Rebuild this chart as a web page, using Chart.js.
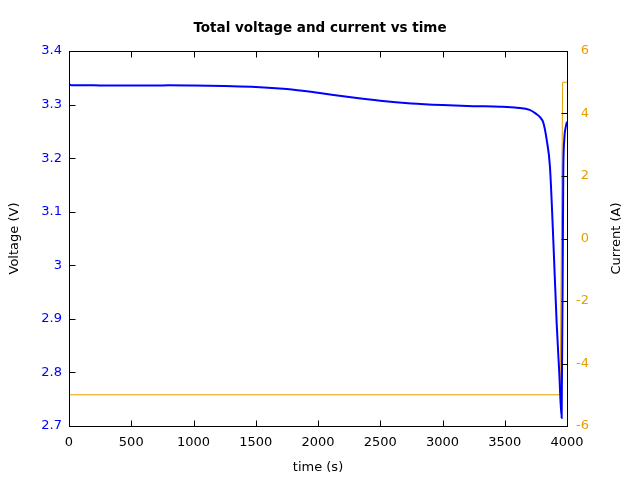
<!DOCTYPE html>
<html>
<head>
<meta charset="utf-8">
<script src="https://cdn.jsdelivr.net/npm/chart.js@4/dist/chart.umd.min.js"></script>
<style>
html,body{margin:0;padding:0;background:#fff;}
canvas{display:block;}
</style>
</head>
<body>
<canvas id="c" width="640" height="480"></canvas>
<script>
// ---- data ----
const voltageTimes = [0, 20, 200, 300, 500, 700, 800, 1000, 1250, 1500, 1750, 2000, 2250, 2500, 2750, 3000, 3250, 3462, 3600, 3700, 3750, 3785, 3810, 3837, 3863, 3890, 3917, 3938, 3957, 3970, 3978, 3990, 4000];
const voltage      = [3.338, 3.336, 3.336, 3.3355, 3.3355, 3.3355, 3.336, 3.3355, 3.3345, 3.333, 3.329, 3.322, 3.314, 3.307, 3.302, 3.299, 3.297, 3.296, 3.294, 3.290, 3.283, 3.276, 3.266, 3.234, 3.184, 3.047, 2.892, 2.799, 2.715, 3.172, 3.234, 3.258, 3.268];
const currentTimes = [0, 3945, 3965, 4000];
const current      = [-5, -5, 5, 5];

const timeTicks    = [0, 500, 1000, 1500, 2000, 2500, 3000, 3500, 4000];
const voltageTicks = [2.7, 2.8, 2.9, 3.0, 3.1, 3.2, 3.3, 3.4];
const currentTicks = [-6, -4, -2, 0, 2, 4, 6];

const titleText   = 'Total voltage and current vs time';
const xTitle      = 'time (s)';
const yTitle      = 'Voltage (V)';
const y1Title     = 'Current (A)';

const BLUE = '#0000ff';
const ORANGE = '#e69f00';
const FONT = 'DejaVu Sans';

const fmt = v => String(Number(v.toFixed(2)));

const frameTicks = {
  id: 'frameTicks',
  afterDraw(chart) {
    const {ctx, chartArea: a, scales} = chart;
    const L = Math.round(a.left) + 0.5, R = Math.round(a.right) + 0.5;
    const T = Math.round(a.top) + 0.5, B = Math.round(a.bottom) + 0.5;
    ctx.save();
    ctx.strokeStyle = '#000';
    ctx.lineWidth = 1;
    ctx.beginPath();
    const len = 6;
    timeTicks.forEach(t => {
      const x = Math.round(scales.x.getPixelForValue(t)) + 0.5;
      ctx.moveTo(x, B); ctx.lineTo(x, B - len);
      ctx.moveTo(x, T); ctx.lineTo(x, T + len);
    });
    voltageTicks.forEach(v => {
      const y = Math.round(scales.y.getPixelForValue(v)) + 0.5;
      ctx.moveTo(L, y); ctx.lineTo(L + len, y);
    });
    currentTicks.forEach(v => {
      const y = Math.round(scales.y1.getPixelForValue(v)) + 0.5;
      ctx.moveTo(R, y); ctx.lineTo(R - len, y);
    });
    ctx.stroke();
    ctx.strokeRect(L, T, R - L, B - T);
    // right axis title, reading bottom-to-top like the reference
    ctx.fillStyle = '#000';
    ctx.font = '13px "' + FONT + '"';
    ctx.textAlign = 'center';
    ctx.textBaseline = 'middle';
    ctx.translate(617, (a.top + a.bottom) / 2);
    ctx.rotate(-Math.PI / 2);
    ctx.fillText(y1Title, 0, 0);
    ctx.restore();
  }
};

new Chart(document.getElementById('c'), {
  type: 'line',
  data: {
    datasets: [
      {
        label: 'Voltage',
        data: voltageTimes.map((t, i) => ({x: t, y: voltage[i]})),
        borderColor: BLUE,
        borderWidth: 2,
        pointRadius: 0,
        cubicInterpolationMode: 'monotone',
        yAxisID: 'y',
        order: 1
      },
      {
        label: 'Current',
        data: currentTimes.map((t, i) => ({x: t, y: current[i]})),
        borderColor: ORANGE,
        borderWidth: 1,
        pointRadius: 0,
        tension: 0,
        yAxisID: 'y1',
        order: 2
      }
    ]
  },
  options: {
    responsive: false,
    animation: false,
    devicePixelRatio: 1,
    layout: {padding: 0},
    plugins: {
      legend: {display: false},
      tooltip: {enabled: false},
      title: {
        display: true,
        text: titleText,
        color: '#000',
        font: {family: FONT, size: 13.5, weight: 'bold'},
        padding: {top: 20, bottom: 14.8}
      }
    },
    scales: {
      x: {
        type: 'linear',
        min: 0, max: 4000,
        afterBuildTicks: s => { s.ticks = timeTicks.map(v => ({value: v})); },
        afterFit: s => { s.height = 54; },
        grid: {display: false, drawTicks: false, tickLength: 0},
        border: {display: false},
        ticks: {
          color: '#000', font: {family: FONT, size: 13}, padding: 9,
          maxRotation: 0, autoSkip: false,
          callback: v => fmt(v)
        },
        title: {display: true, text: xTitle, color: '#000', font: {family: FONT, size: 13}, padding: {top: 0, bottom: 5}}
      },
      y: {
        position: 'left',
        min: 2.7, max: 3.4,
        afterBuildTicks: s => { s.ticks = voltageTicks.map(v => ({value: v})); },
        afterFit: s => { s.width = 69; },
        grid: {display: false, drawTicks: false, tickLength: 0},
        border: {display: false},
        ticks: {
          color: BLUE, font: {family: FONT, size: 13}, padding: 7, autoSkip: false,
          callback: v => fmt(v)
        },
        title: {display: true, text: yTitle, color: '#000', font: {family: FONT, size: 13}, padding: {top: 6.7, bottom: 0}}
      },
      y1: {
        position: 'right',
        weight: 0,
        min: -6, max: 6,
        afterBuildTicks: s => { s.ticks = currentTicks.map(v => ({value: v})); },
        afterFit: s => { s.width = 22; },
        grid: {display: false, drawTicks: false, tickLength: 0},
        border: {display: false},
        ticks: {
          color: ORANGE, font: {family: FONT, size: 13}, padding: 10, autoSkip: false,
          crossAlign: 'far',
          callback: v => fmt(v)
        }
      },
      rightTitleSpace: {
        position: 'right',
        weight: 1,
        type: 'linear',
        min: 0, max: 1,
        afterFit: s => { s.width = 51; },
        grid: {display: false, drawTicks: false},
        border: {display: false},
        ticks: {display: false}
      }
    }
  },
  plugins: [frameTicks]
});
</script>
</body>
</html>
